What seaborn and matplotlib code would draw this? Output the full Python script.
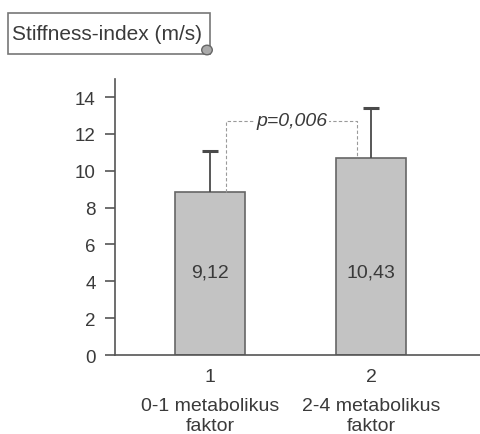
import matplotlib
matplotlib.use("Agg")
import matplotlib.pyplot as plt
import matplotlib.transforms as mtransforms
from matplotlib.patches import Rectangle, Circle
import seaborn as sns
import pandas as pd

# adatok
groups = ["1", "2"]
group_names = ["0-1 metabolikus\nfaktor", "2-4 metabolikus\nfaktor"]
means = [8.85, 10.7]
sd_upper = [2.2, 2.7]
value_labels = ["9,12", "10,43"]
p_text = "p=0,006"
y_ticks = [0, 2, 4, 6, 8, 10, 12, 14]

df = pd.DataFrame({"group": groups, "mean": means})
tops = [m + s for m, s in zip(means, sd_upper)]

sns.set_style("white")
plt.rcParams["font.family"] = ["Liberation Sans", "DejaVu Sans"]
txt = "#3a3a3a"

fig = plt.figure(figsize=(4.81, 4.35), dpi=100)
ax = fig.add_axes([0.239, 0.1816, 0.761, 0.6354])

sns.barplot(data=df, x="group", y="mean", color="#c3c3c3", edgecolor="#666666",
            linewidth=1.2, width=0.435, saturation=1, errorbar=None, ax=ax)
# csak felso szoras
ax.vlines([0, 1], means, tops, color="#4a4a4a", lw=1.3, zorder=3)
ax.plot([0, 1], tops, ls="none", marker="_", ms=12, mew=2.2,
        color="#4a4a4a", zorder=3)

for i, lab in enumerate(value_labels):
    ax.text(i, 4.5, lab, ha="center", va="center", fontsize=14, color=txt)

# p-ertek zarojel
by = 12.7
ax.plot([0.1, 0.1, 0.91, 0.91], [means[0], by, by, means[1]],
        color="#9a9a9a", lw=0.8, ls=(0, (3, 2)), zorder=1)
ax.text(0.51, by, p_text, ha="center", va="center", fontsize=14, style="italic",
        color=txt, bbox=dict(facecolor="white", edgecolor="none", pad=1))

ax.set_xlim(-0.59, 1.683)
ax.set_ylim(0, 15)
ax.set_yticks(y_ticks)
ax.set_xlabel("")
ax.set_ylabel("")
sns.despine(ax=ax)
for s in ["left", "bottom"]:
    ax.spines[s].set_color("#555555")
    ax.spines[s].set_linewidth(1.2)
ax.tick_params(axis="y", length=7, width=1.2, color="#555555", pad=7,
               labelsize=13.5, labelcolor=txt, left=True)
ax.tick_params(axis="x", length=0, pad=9, labelsize=14, labelcolor=txt)

trans = mtransforms.blended_transform_factory(ax.transData, fig.transFigure)
for i, name in enumerate(group_names):
    ax.text(i, 1 - 398 / 435, name, ha="center", va="top", fontsize=14,
            color=txt, linespacing=1.25, transform=trans, clip_on=False)

# cim doboz
fig.patches.append(Rectangle((8 / 481, 1 - 55 / 435), 202 / 481, 41 / 435,
                             transform=fig.transFigure, facecolor="white",
                             edgecolor="#777777", lw=1.2))
fig.text(12 / 481, 1 - 34 / 435, "Stiffness-index (m/s)", ha="left",
         va="center", fontsize=15, color=txt)
fig.patches.append(Circle((207 / 481, 1 - 51 / 435), 0.011,
                          transform=fig.transFigure, facecolor="#aaaaaa",
                          edgecolor="#666666", lw=1))

fig.savefig("out.png", dpi=100)
